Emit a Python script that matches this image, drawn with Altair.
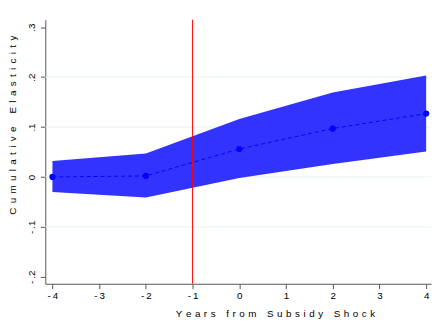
import altair as alt
import pandas as pd

years = [-4, -2, 0, 2, 4]
coef = [0.0, 0.002, 0.056, 0.097, 0.127]
lower = [-0.030, -0.041, -0.002, 0.026, 0.051]
upper = [0.032, 0.047, 0.116, 0.169, 0.203]
x_ticks = [-4, -3, -2, -1, 0, 1, 2, 3, 4]
y_ticks = [-0.2, -0.1, 0.0, 0.1, 0.2, 0.3]
grid_vals = [-0.1, 0.0, 0.1, 0.2]
event_year = [-1]
x_title = "Years from Subsidy Shock"
y_title = "Cumulative Elasticity"


def spaced(s, gap, words=3):
    return (gap * words).join(gap.join(w) for w in s.split(" "))


df = pd.DataFrame({"year": years, "coef": coef, "lo": lower, "hi": upper})
grid_df = pd.DataFrame({"g": grid_vals})
ev_df = pd.DataFrame({"e": event_year})

FONT = "Liberation Sans"
xscale = alt.Scale(domain=[-4.153, 4.105], nice=False, zero=False)
yscale = alt.Scale(domain=[-0.214, 0.315], nice=False, zero=False)

xlab = "datum.value < 0 ? '-\u2009' + abs(datum.value) : '' + datum.value"
ylab = ("datum.value == 0 ? '0' : (datum.value < 0 ? '-\u2009' : '') + "
        "replace(format(abs(datum.value), '.1f'), '0.', '.')")

xaxis = alt.Axis(values=x_ticks, labelExpr=xlab, grid=False,
                 title=spaced(x_title, "\u00a0\u200a", 3),
                 titleX=234, titleY=30, titleBaseline="middle", titleAlign="center",
                 titleFont=FONT, titleFontSize=10, titleFontWeight="normal", titleColor="#000000",
                 labelFont=FONT, labelFontSize=10, labelColor="#000000", labelPadding=2,
                 tickSize=5, tickColor="#555555", domainColor="#555555")
yaxis = alt.Axis(values=y_ticks, labelExpr=ylab, grid=False,
                 title=spaced(y_title, "\u00a0\u2006", 3),
                 titleX=-33, titleY=107, titleAngle=270, titleBaseline="middle", titleAlign="center",
                 titleFont=FONT, titleFontSize=10, titleFontWeight="normal", titleColor="#000000",
                 labelFont=FONT, labelFontSize=10, labelColor="#000000", labelAngle=270,
                 labelAlign="center", labelBaseline="bottom", labelPadding=4,
                 tickSize=5, tickColor="#555555", domainColor="#555555")

grid = alt.Chart(grid_df).mark_rule(color="#EAF2F3", strokeWidth=1).encode(
    y=alt.Y("g:Q", scale=yscale, axis=yaxis)
)
band = alt.Chart(df).mark_area(color="#3333FF", opacity=1).encode(
    x=alt.X("year:Q", scale=xscale, axis=xaxis),
    y=alt.Y("lo:Q", scale=yscale),
    y2="hi:Q",
)
vline = alt.Chart(ev_df).mark_rule(color="#FF0000", strokeWidth=1).encode(
    x=alt.X("e:Q", scale=xscale)
)
line = alt.Chart(df).mark_line(color="#0000FF", strokeWidth=1, strokeDash=[4, 3]).encode(
    x=alt.X("year:Q", scale=xscale),
    y=alt.Y("coef:Q", scale=yscale),
)
pts = alt.Chart(df).mark_point(color="#0000FF", filled=True, opacity=1, size=40).encode(
    x=alt.X("year:Q", scale=xscale),
    y=alt.Y("coef:Q", scale=yscale),
)

chart = alt.layer(grid, band, vline, line, pts).properties(
    width=393, height=269,
    autosize=alt.AutoSizeParams(type="none"),
    padding={"left": 38, "top": 9, "right": 3, "bottom": 35},
    background="#FFFFFF",
).configure_view(stroke=None)

chart.save("out.html", embed_options={"renderer": "svg", "actions": False})
